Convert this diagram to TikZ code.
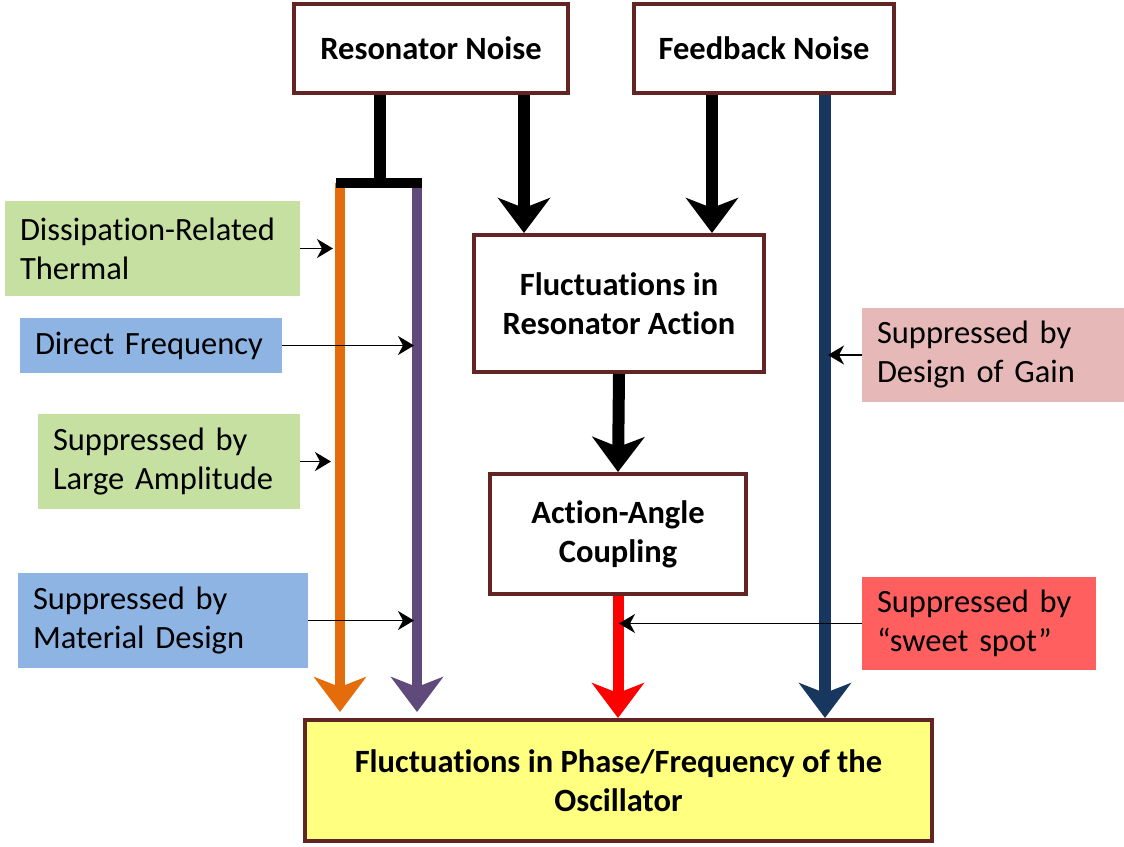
\documentclass[tikz,border=0pt]{standalone}
\usepackage{fontspec}
\setmainfont{Carlito}[Ligatures=NoCommon]
\usetikzlibrary{arrows.meta,calc}
\definecolor{bord}{HTML}{632523}
\definecolor{orangeL}{HTML}{E46C0A}
\definecolor{purpleL}{HTML}{604A7B}
\definecolor{navyL}{HTML}{17375E}
\definecolor{greenF}{HTML}{C6E0A2}
\definecolor{blueF}{HTML}{8EB4E3}
\definecolor{pinkF}{HTML}{E6B9B8}
\definecolor{redF}{HTML}{FF5F5F}
\definecolor{yellowF}{HTML}{FFFF80}
\begin{document}
\begin{tikzpicture}[x=1pt,y=-1pt,
  mainbox/.style={draw=bord,line width=4pt,fill=white,font=\fontsize{32.5}{39}\selectfont\bfseries,align=center,inner sep=0pt},
  sidebox/.style={font=\fontsize{32.5}{39}\selectfont,align=left,inner xsep=15pt,inner ysep=0pt},
  bigarrow/.style={line width=#1,-{Stealth[length=35pt,width=52pt,inset=10pt]}},
  bigarrow/.default=12pt,
  thinarrow/.style={line width=1.5pt,-{Stealth[length=16pt,width=19pt,inset=5pt]}}]
\useasboundingbox (0,0) rectangle (1124,846);

% main boxes
\node[mainbox,minimum width=274pt,minimum height=89pt] (rn) at (431,48.5) {Resonator Noise};
\node[mainbox,minimum width=260pt,minimum height=89pt] (fn) at (764,48.5) {Feedback Noise};
\node[mainbox,minimum width=290pt,minimum height=137pt] (fra) at (619,303.5) {Fluctuations in\\Resonator Action};
\node[mainbox,minimum width=256pt,minimum height=120pt] (aac) at (618,534) {Action-Angle\\Coupling};
\node[mainbox,fill=yellowF,minimum width=627pt,minimum height=121pt] (bot) at (618.5,780.5) {Fluctuations in Phase/Frequency of the\\Oscillator};

% side boxes
\node[sidebox,fill=greenF,text width=265pt,minimum height=95pt] (g1) at (152.5,248.5) {Dissipation-Related\\Thermal};
\node[sidebox,fill=blueF,text width=232pt,minimum height=55pt] (b1) at (151,345.5) {Direct Frequency};
\node[sidebox,fill=greenF,text width=232pt,minimum height=95pt] (g2) at (169,461.5) {Suppressed by\\Large Amplitude};
\node[sidebox,fill=blueF,text width=260pt,minimum height=95pt] (b2) at (163,620.5) {Suppressed by\\Material Design};
\node[sidebox,fill=pinkF,text width=232pt,minimum height=94pt] (pk) at (993,355) {Suppressed by\\Design of Gain};
\node[sidebox,fill=redF,text width=204pt,minimum height=93pt] (rd) at (979,623.5) {Suppressed by\\“sweet spot”};

% coordinates of the split
\coordinate (ot) at (340,183);
\coordinate (pt) at (417,183);
\coordinate (tb) at (380,183);
\coordinate (tl) at (336,183);
\coordinate (tr) at (422,183);

% orange and purple lines
\draw[bigarrow=10pt,draw=orangeL,fill=orangeL] (ot) -- ($(ot |- bot.north)+(0,-6)$);
\draw[bigarrow=10pt,draw=purpleL,fill=purpleL] (pt) -- ($(pt |- bot.north)+(0,-6)$);

% T junction from resonator noise
\draw[line width=12pt] ([xshift=-51pt]rn.south) -- (tb);
\draw[line width=10pt] (tl) -- (tr);

% black arrows
\draw[bigarrow] ([xshift=93pt]rn.south) coordinate (a1) -- (a1 |- fra.north);
\draw[bigarrow] ([xshift=-52pt]fn.south) coordinate (a2) -- (a2 |- fra.north);
\draw[bigarrow] (fra.south) -- (aac.north);

% navy and red
\draw[bigarrow,draw=navyL,fill=navyL] ([xshift=61pt]fn.south) coordinate (nv) -- (nv |- bot.north);
\draw[bigarrow=11pt,draw=red,fill=red] (aac.south) coordinate (rv) -- (rv |- bot.north);

% thin arrows
\draw[thinarrow] (g1.east) -- ($(g1.east -| ot)+(-7,0)$);
\draw[thinarrow] (b1.east) -- ($(b1.east -| pt)+(-3,0)$);
\draw[thinarrow] (g2.east) -- ($(g2.east -| ot)+(-9,0)$);
\draw[thinarrow] (b2.east) -- ($(b2.east -| pt)+(-3,0)$);
\draw[thinarrow] (pk.west) -- ($(pk.west -| nv)+(3,0)$);
\draw[thinarrow] (rd.west) -- ($(rd.west -| rv)+(1,0)$);
\end{tikzpicture}
\end{document}
